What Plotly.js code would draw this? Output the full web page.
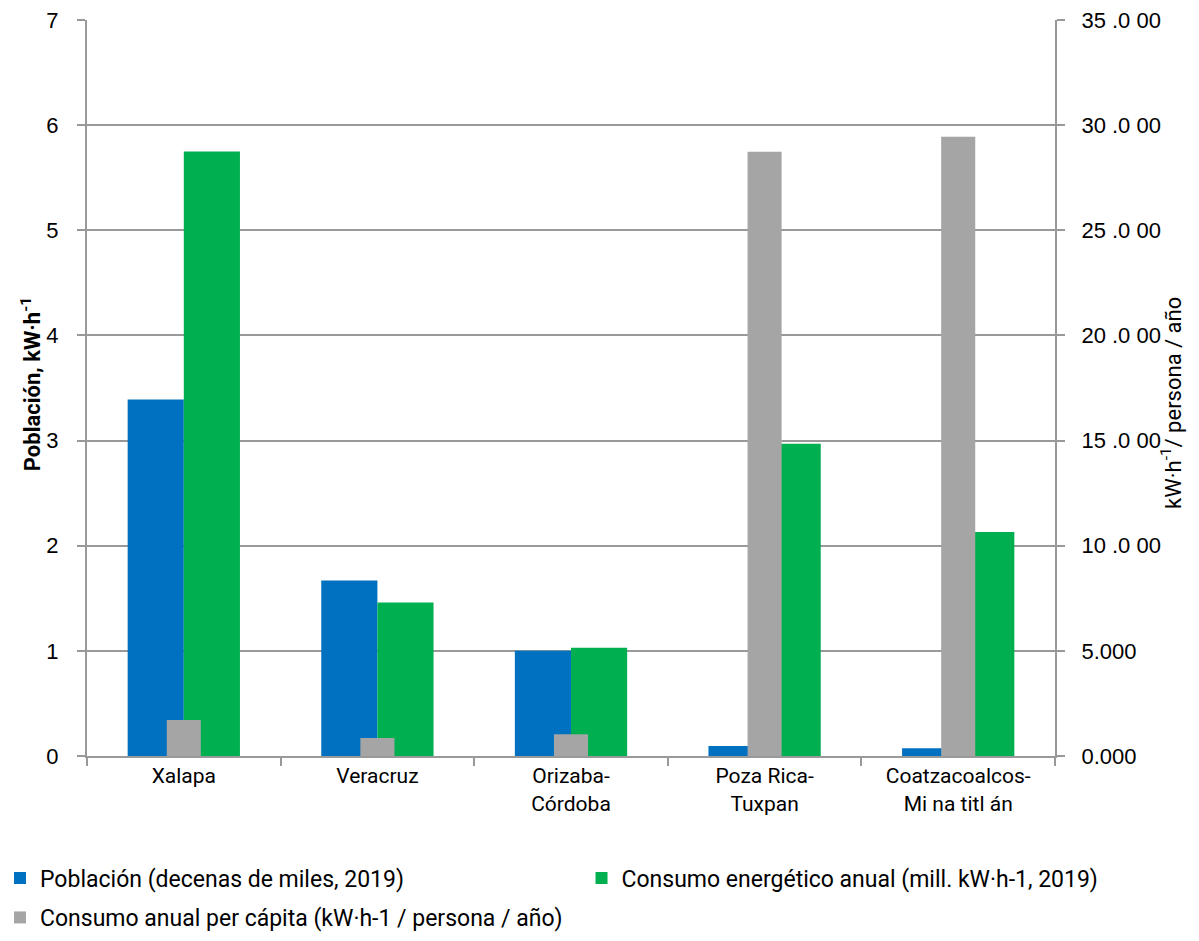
<!DOCTYPE html>
<html>
<head>
<meta charset="utf-8">
<script src="https://cdn.plot.ly/plotly-3.0.1.min.js"></script>
<style>html,body{margin:0;padding:0;background:#fff;}#chart{width:1199px;height:941px;}</style>
</head>
<body>
<div id="chart"></div>
<script>
const categories = ["Xalapa", "Veracruz", "Orizaba-<br>Córdoba", "Poza Rica-<br>Tuxpan", "Coatzacoalcos-<br>Mi na titl án"];
const poblacion = [3.39, 1.67, 1.00, 0.095, 0.073];
const consumo = [5.75, 1.46, 1.03, 2.97, 2.13];
const perCapita = [1710, 860, 1030, 28740, 29450];
const y1TickVals = [0, 1, 2, 3, 4, 5, 6, 7];
const y2TickVals = [0, 5000, 10000, 15000, 20000, 25000, 30000, 35000];
const y2TickText = ["0.000", "5.000", "10 .0 00", "15 .0 00", "20 .0 00", "25 .0 00", "30 .0 00", "35 .0 00"];
const seriesNames = [
  "Población (decenas de miles, 2019)",
  "Consumo energético anual (mill. kW·h-1, 2019)",
  "Consumo anual per cápita (kW·h-1 / persona / año)"
];
const y1Title = "<b>Población, kW·h<sup>-1</sup></b>";
const y2Title = "kW·h<sup>-1</sup>/ persona / año";

const condensed = "Roboto, sans-serif";
const wide = "Liberation Sans, Arial, sans-serif";

const traces = [
  {type: "bar", name: seriesNames[0], x: categories, y: poblacion, marker: {color: "#0070C0"}, width: 0.29, offset: -0.29, yaxis: "y", legend: "legend"},
  {type: "bar", name: seriesNames[1], x: categories, y: consumo, marker: {color: "#00B050"}, width: 0.29, offset: 0, yaxis: "y", legend: "legend2"},
  {type: "bar", name: seriesNames[2], x: categories, y: perCapita, marker: {color: "#A5A5A5"}, width: 0.176, offset: -0.088, yaxis: "y2", legend: "legend3"}
];

const legendFont = {family: condensed, size: 23, color: "#000"};
function legendAt(x, y) {
  return {orientation: "h", xref: "container", yref: "container", x: x, y: y,
          xanchor: "left", yanchor: "middle", font: legendFont, itemwidth: 30,
          bgcolor: "rgba(0,0,0,0)"};
}

const layout = {
  width: 1199, height: 941,
  margin: {l: 87, r: 144, t: 20, b: 185},
  paper_bgcolor: "#fff", plot_bgcolor: "#fff",
  barmode: "overlay",
  showlegend: true,
  xaxis: {
    type: "category",
    showline: true, linecolor: "#999", linewidth: 2,
    ticks: "outside", tickson: "boundaries", ticklen: 8, tickcolor: "#999", tickwidth: 2,
    tickfont: {family: condensed, size: 21, color: "#000"},
    showgrid: false, zeroline: false
  },
  yaxis: {
    range: [0, 7], tickvals: y1TickVals,
    showline: true, linecolor: "#999", linewidth: 2,
    ticks: "outside", ticklen: 8, tickcolor: "#999", tickwidth: 2,
    ticklabelstandoff: 14,
    showgrid: true, gridcolor: "#999", gridwidth: 2, zeroline: false,
    tickfont: {family: wide, size: 22, color: "#000"}
  },
  yaxis2: {
    overlaying: "y", side: "right",
    range: [0, 35000], tickvals: y2TickVals, ticktext: y2TickText,
    showline: true, linecolor: "#999", linewidth: 2,
    ticks: "outside", ticklen: 8, tickcolor: "#999", tickwidth: 2,
    ticklabelstandoff: 12,
    showgrid: false, zeroline: false,
    tickfont: {family: wide, size: 22, color: "#000"}
  },
  annotations: [
    {text: y1Title, xref: "paper", yref: "paper", x: -0.058, y: 0.505, xanchor: "center", yanchor: "middle",
     textangle: -90, showarrow: false, font: {family: condensed, size: 22, color: "#000"}},
    {text: y2Title, xref: "paper", yref: "paper", x: 1.12, y: 0.48, xanchor: "center", yanchor: "middle",
     textangle: -90, showarrow: false, font: {family: condensed, size: 22, color: "#000"}}
  ],
  legend: legendAt(0, 0.067),
  legend2: legendAt(0.485, 0.067),
  legend3: legendAt(0, 0.025)
};

Plotly.newPlot("chart", traces, layout, {displayModeBar: false});
</script>
</body>
</html>
